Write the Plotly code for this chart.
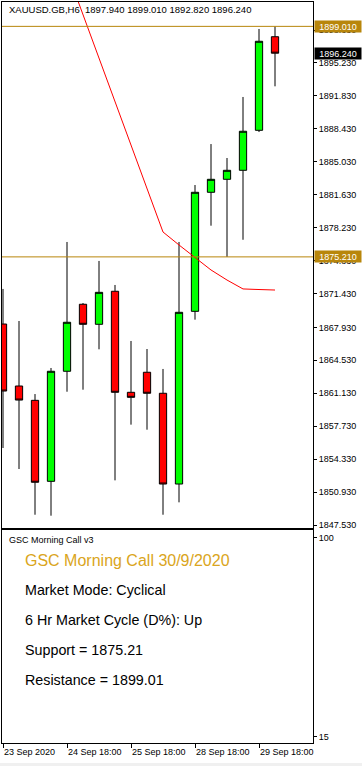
import plotly.graph_objects as go

# ---------------- data ----------------
symbol = "XAUUSD.GB,H6"
bar_times = ["23 Sep 18:00", "24 Sep 00:00", "24 Sep 06:00", "24 Sep 12:00",
             "24 Sep 18:00", "25 Sep 00:00", "25 Sep 06:00", "25 Sep 12:00",
             "25 Sep 18:00", "28 Sep 00:00", "28 Sep 06:00", "28 Sep 12:00",
             "28 Sep 18:00", "29 Sep 00:00", "29 Sep 06:00", "29 Sep 12:00",
             "29 Sep 18:00", "30 Sep 00:00"]
opens = [1868.28, 1861.88, 1860.40, 1852.04, 1863.40, 1870.32, 1868.25, 1871.66, 1861.23,
         1863.30, 1861.13, 1851.76, 1869.59, 1881.88, 1883.22, 1884.15, 1888.28, 1897.94]
highs = [1871.90, 1868.59, 1861.05, 1863.74, 1876.75, 1870.45, 1874.79, 1872.31, 1866.53,
         1865.70, 1863.64, 1876.75, 1882.63, 1886.86, 1885.42, 1891.72, 1898.74, 1899.01]
lows = [1855.48, 1853.31, 1848.59, 1848.49, 1861.29, 1861.50, 1865.67, 1852.14, 1857.89,
        1857.37, 1848.59, 1849.87, 1868.73, 1878.43, 1875.21, 1876.98, 1888.10, 1892.82]
closes = [1861.36, 1860.43, 1851.94, 1863.40, 1868.46, 1868.25, 1871.55, 1861.23, 1860.71,
          1861.13, 1851.76, 1869.49, 1881.88, 1883.22, 1884.15, 1888.18, 1897.47, 1896.24]
ma_values = [None, None, None, 1909.20, 1904.73, 1900.18, 1895.64, 1891.14, 1886.66,
             1882.22, 1877.78, 1876.44, 1875.15, 1873.86, 1872.82, 1871.90, 1871.84, 1871.79]
support = 1875.21
resistance = 1899.01
price_ticks = [1847.53, 1850.93, 1854.33, 1857.73, 1861.13, 1864.53, 1867.93, 1871.43,
               1874.83, 1878.23, 1881.63, 1885.03, 1888.43, 1891.83, 1895.23, 1898.63]
date_tick_bars = [0, 4, 8, 12, 16]
date_tick_labels = ["23 Sep 2020", "24 Sep 18:00", "25 Sep 18:00", "28 Sep 18:00", "29 Sep 18:00"]
panel_title = "GSC Morning Call v3"
call_title = "GSC Morning Call 30/9/2020"
market_mode = "Cyclical"
cycle_dir = "Up"
osc_ticks = [15, 100]

# ---------------- layout helpers ----------------
W, H = 362, 766
def py(p):  # pixel-from-top -> paper
    return 1 - p / H
def px(p):
    return p / W

x = list(range(len(opens)))
GOLD_LINE = "#B8860B"
FONT = "Liberation Sans"

fig = go.Figure()
fig.add_trace(go.Candlestick(
    x=x, open=opens, high=highs, low=lows, close=closes,
    increasing=dict(line=dict(color="black", width=1), fillcolor="#00FF00"),
    decreasing=dict(line=dict(color="black", width=1), fillcolor="#FF0000"),
    whiskerwidth=0, hoverinfo="skip", showlegend=False, xaxis="x", yaxis="y"))
fig.add_trace(go.Scatter(x=x, y=ma_values, mode="lines",
                         line=dict(color="#FF0000", width=1),
                         hoverinfo="skip", showlegend=False, xaxis="x", yaxis="y"))
# empty trace for the oscillator pane
fig.add_trace(go.Scatter(x=[x[0]], y=[None], mode="lines", showlegend=False,
                         xaxis="x2", yaxis="y2", hoverinfo="skip"))

xr = [-0.0625, 19.375]
k = 9.686  # px per price unit
ytop_px, ybot_px = 1.5, 527.5
yr = [1847.53 - (ybot_px - 525) / k, 1847.53 + (525 - ytop_px) / k]

fig.update_layout(
    width=W, height=H, margin=dict(l=0, r=0, t=0, b=0, autoexpand=False),
    paper_bgcolor="white", plot_bgcolor="white",
    font=dict(family=FONT, size=9, color="black"),
    boxgap=0.35,
    xaxis=dict(domain=[px(2), px(313)], range=xr, showgrid=False, zeroline=False,
               showticklabels=False, ticks="", showline=True, mirror=True,
               linecolor="black", linewidth=1, rangeslider=dict(visible=False),
               anchor="y", fixedrange=True),
    yaxis=dict(domain=[py(ybot_px), py(ytop_px)], range=yr, side="right",
               tickvals=price_ticks, ticktext=[f"{v:.3f}" for v in price_ticks],
               ticks="outside", ticklen=3, tickcolor="black",
               tickfont=dict(family=FONT, size=9, color="black"),
               showgrid=False, zeroline=False, showline=True, mirror=True,
               linecolor="black", linewidth=1, anchor="x", fixedrange=True),
    xaxis2=dict(domain=[px(2), px(313)], range=xr, showgrid=False, zeroline=False,
                tickvals=date_tick_bars, ticktext=date_tick_labels,
                ticks="outside", ticklen=4, tickcolor="black",
                ticklabelposition="outside right",
                tickfont=dict(family=FONT, size=9, color="black"),
                showline=True, mirror=True, linecolor="black", linewidth=1,
                anchor="y2", fixedrange=True),
    yaxis2=dict(domain=[py(743), py(530)], range=[12.4, 103.4], side="right",
                tickvals=osc_ticks, ticktext=[str(v) for v in osc_ticks],
                ticks="outside", ticklen=3, tickcolor="black",
                tickfont=dict(family=FONT, size=9, color="black"),
                showgrid=False, zeroline=False, showline=True, mirror=True,
                linecolor="black", linewidth=1, anchor="x2", fixedrange=True),
)

# support / resistance lines
for lvl in (resistance, support):
    fig.add_shape(type="line", xref="x domain", yref="y", x0=0, x1=1, y0=lvl, y1=lvl,
                  line=dict(color=GOLD_LINE, width=1))

# price labels on the right axis
for lvl, bg in ((resistance, GOLD_LINE), (support, GOLD_LINE), (closes[-1], "black")):
    fig.add_annotation(xref="paper", yref="y", x=px(314), y=lvl, xanchor="left",
                       yanchor="middle", text=f"{lvl:.3f}", showarrow=False,
                       bgcolor=bg, width=44, height=9, borderpad=1,
                       font=dict(family=FONT, size=9, color="white"))

# chart header
fig.add_annotation(xref="paper", yref="paper", x=px(7), y=py(9), xanchor="left",
                   yanchor="middle", showarrow=False,
                   text=symbol + "\u00a0\u00a0" + " ".join(
                       f"{v:.3f}" for v in (opens[-1], highs[-1], lows[-1], closes[-1])),
                   font=dict(family=FONT, size=9.5, color="black"))

# oscillator pane texts
fig.add_annotation(xref="paper", yref="paper", x=px(7), y=py(540), xanchor="left",
                   yanchor="middle", showarrow=False, text=panel_title,
                   font=dict(family=FONT, size=9, color="black"))
lines = [
    (call_title, 16, "#DAA520", 560),
    (f"Market Mode: {market_mode}", 14.3, "black", 590),
    (f"6 Hr Market Cycle (D%): {cycle_dir}", 14.3, "black", 620),
    (f"Support = {support:.2f}", 14.3, "black", 650),
    (f"Resistance = {resistance:.2f}", 14.3, "black", 680),
]
for txt, sz, col, ypx in lines:
    fig.add_annotation(xref="paper", yref="paper", x=px(23), y=py(ypx), xanchor="left",
                       yanchor="middle", showarrow=False, text=txt,
                       font=dict(family=FONT, size=sz, color=col))

# gray strip at bottom
fig.add_shape(type="rect", xref="paper", yref="paper", x0=0, x1=1, y0=0, y1=py(763),
              fillcolor="#F0F0F0", line=dict(width=0), layer="below")

fig.write_html("out.html", config={"displayModeBar": False},
               post_script="document.body.style.margin='0';document.body.style.overflow='hidden';")
